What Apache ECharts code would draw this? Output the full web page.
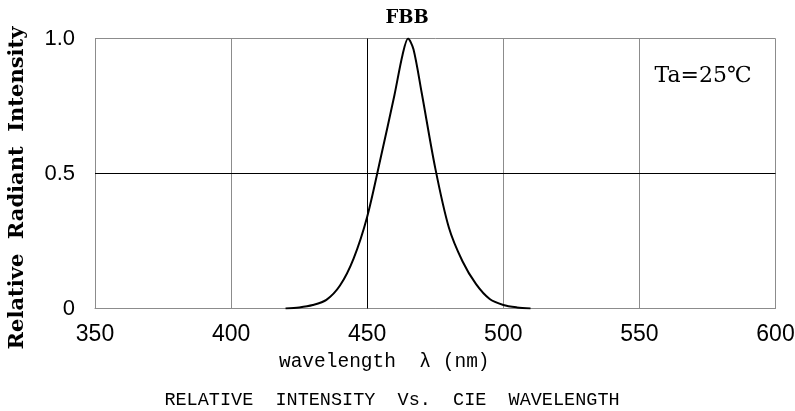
<!DOCTYPE html>
<html>
<head>
<meta charset="utf-8">
<script src="https://cdn.jsdelivr.net/npm/echarts@6/dist/echarts.min.js"></script>
<style>html,body{margin:0;padding:0;background:#fff;}#c{width:795px;height:411px;}</style>
</head>
<body>
<div id="c"></div>
<script>
const wavelengths = [420, 425, 430, 435, 440, 445, 450, 455, 460, 463, 465, 467, 470, 475, 480, 485, 490, 495, 500, 505, 510];
const intensity   = [0, 0.004, 0.013, 0.032, 0.085, 0.185, 0.34, 0.56, 0.79, 0.94, 1.0, 0.96, 0.80, 0.52, 0.30, 0.175, 0.09, 0.035, 0.013, 0.004, 0];
const xTicks = [350, 400, 450, 500, 550, 600];
const yTicks = [0, 0.5, 1.0];
const yTickLabels = ['0', '0.5', '1.0'];
const darkX = [450];
const darkY = [0.5];

const chart = echarts.init(document.getElementById('c'));
const data = wavelengths.map((w, i) => [w, intensity[i]]);
chart.setOption({
  animation: false,
  grid: { left: 95, right: 19.5, top: 38.5, bottom: 102.5, containLabel: false, outerBoundsMode: 'none', show: false },
  xAxis: {
    type: 'value', min: xTicks[0], max: xTicks[xTicks.length - 1], interval: 50,
    axisLine: { show: true, lineStyle: { color: '#8c8c8c', width: 1 } },
    axisTick: { show: false },
    splitLine: { show: true, lineStyle: { color: '#8c8c8c', width: 1 } },
    axisLabel: { color: '#000', fontFamily: 'Liberation Sans', fontSize: 23, margin: 15 },
    name: 'wavelength  λ (nm)', nameLocation: 'middle', nameGap: 42,
    nameTextStyle: { color: '#000', fontFamily: 'Liberation Mono', fontSize: 19.5, padding: [0, 102, 0, 0] }
  },
  yAxis: {
    type: 'value', min: 0, max: 1, interval: 0.5,
    axisLine: { show: true, lineStyle: { color: '#8c8c8c', width: 1 } },
    axisTick: { show: false },
    splitLine: { show: true, lineStyle: { color: '#8c8c8c', width: 1 } },
    axisLabel: { color: '#000', fontFamily: 'Liberation Sans', fontSize: 22, margin: 20,
      formatter: v => { const i = yTicks.indexOf(v); return i >= 0 ? yTickLabels[i] : ''; } },
    name: 'Relative  Radiant  Intensity', nameLocation: 'middle', nameGap: 67, nameRotate: 90,
    nameTextStyle: { color: '#000', fontFamily: 'DejaVu Serif', fontWeight: 'bold', fontSize: 21, padding: [0, 29, 0, 0] }
  },
  graphic: [
    { type: 'text', x: 407, y: 18, style: { text: 'FBB', fill: '#000', font: 'bold 18px "DejaVu Serif"', textAlign: 'center', textVerticalAlign: 'middle' } },
    { type: 'text', x: 703, y: 76, style: { text: 'Ta=25℃', fill: '#000', font: '22px "DejaVu Serif"', textAlign: 'center', textVerticalAlign: 'middle' } },
    { type: 'text', x: 392, y: 400, style: { text: 'RELATIVE  INTENSITY  Vs.  CIE  WAVELENGTH', fill: '#000', font: '18.5px "Liberation Mono"', textAlign: 'center', textVerticalAlign: 'middle' } }
  ],
  series: [{
    type: 'line', data: data, smooth: 0.3, showSymbol: false, symbol: 'none',
    lineStyle: { color: '#000', width: 2 },
    markLine: {
      silent: true, symbol: 'none', label: { show: false },
      lineStyle: { color: '#000', width: 1, type: 'solid' },
      data: darkX.map(v => ({ xAxis: v })).concat(darkY.map(v => ({ yAxis: v })))
    }
  }]
});
</script>
</body>
</html>
